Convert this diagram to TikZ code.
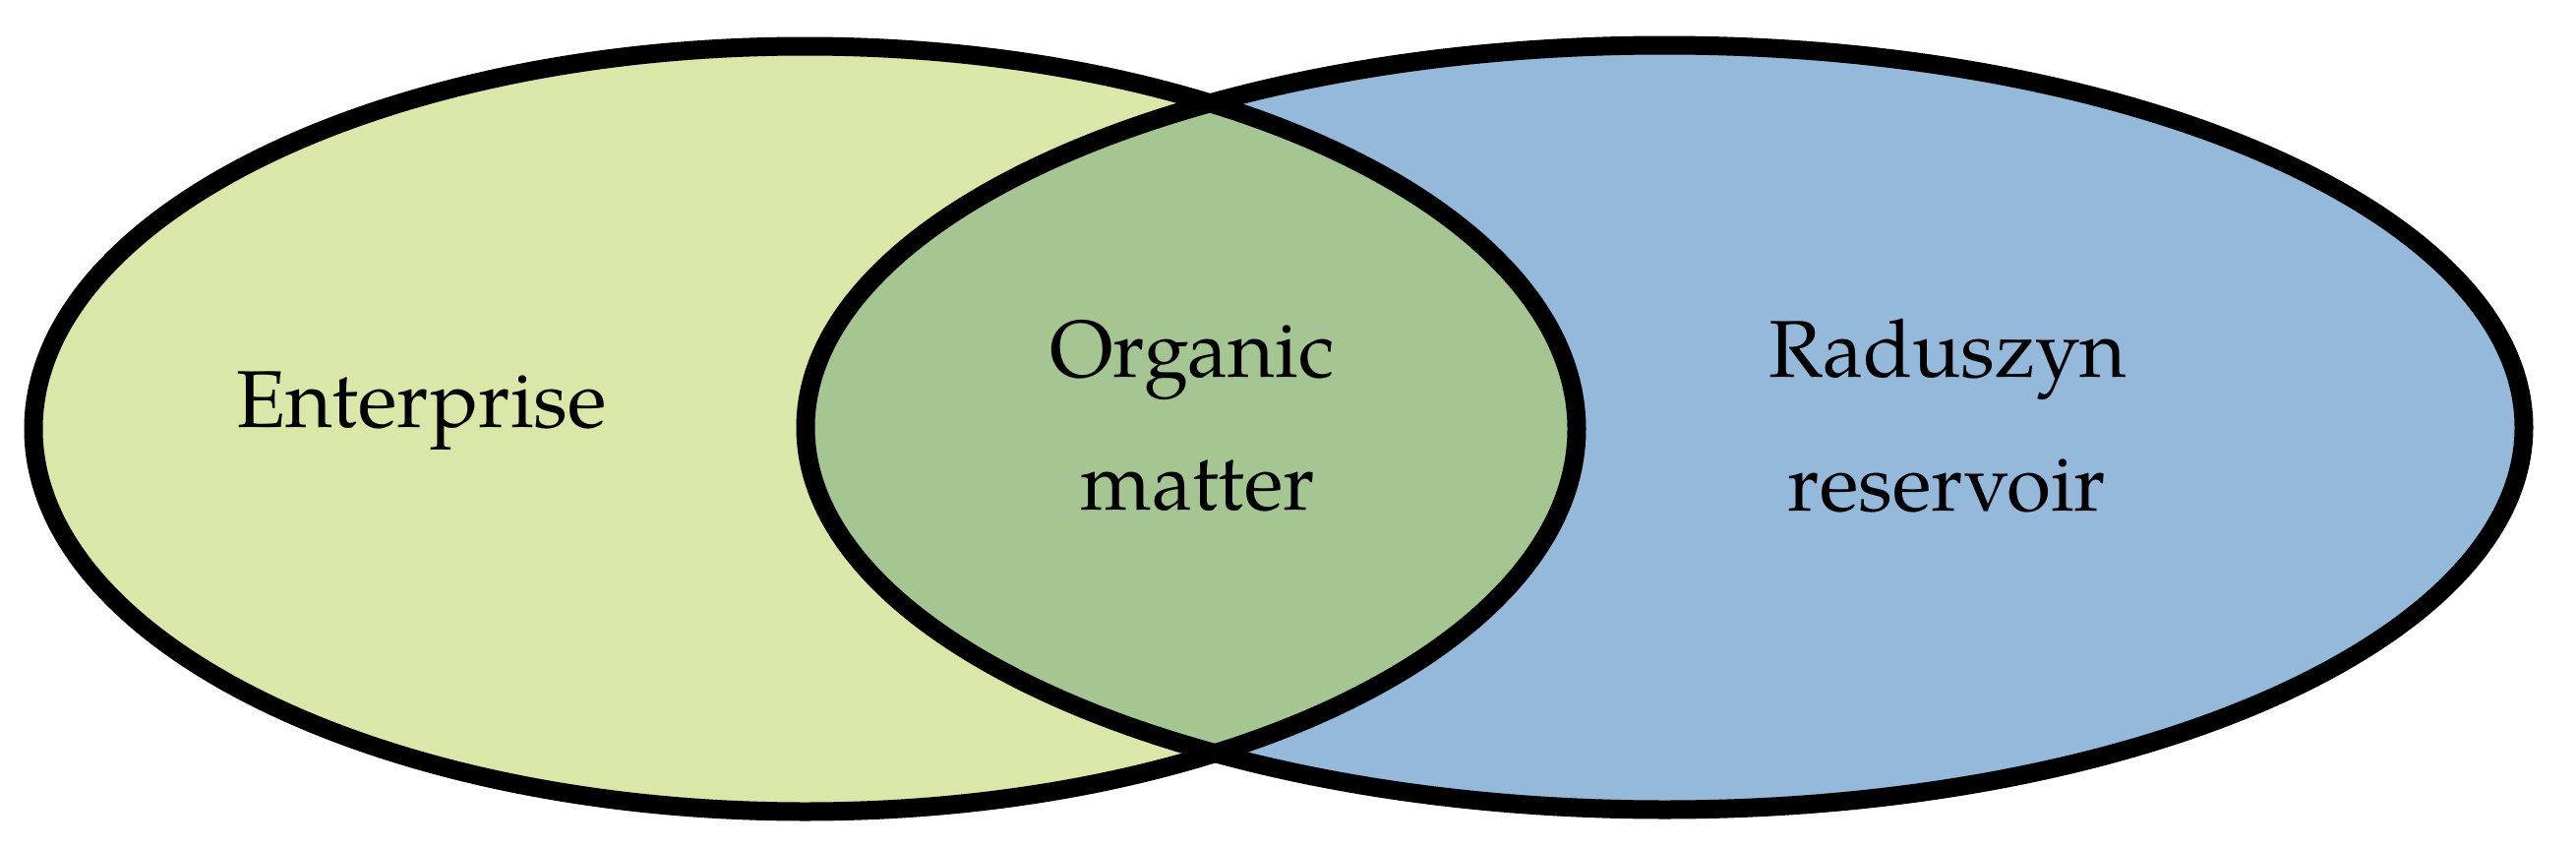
\documentclass[tikz,border=0pt]{standalone}
\usepackage{fontspec}
\setmainfont{TeX Gyre Pagella}
\definecolor{lgreen}{RGB}{217,232,168}
\definecolor{mgreen}{RGB}{165,197,147}
\definecolor{lblue}{RGB}{149,185,219}
\tikzset{
  ring/.style={draw=black, line width=19pt},
  lbl/.style={anchor=base, inner sep=0pt, font=\fontsize{82}{100}\selectfont}
}
\begin{document}
\begin{tikzpicture}[x=1pt,y=-1pt]
\useasboundingbox (0,0) rectangle (2619,862);
\coordinate (cl) at (818.5,436);
\coordinate (cr) at (1692.5,434.5);
\fill[lgreen] (cl) ellipse [x radius=784.5, y radius=389];
\fill[lblue] (cr) ellipse [x radius=873.5, y radius=388.5];
\begin{scope}
  \clip (cl) ellipse [x radius=784.5, y radius=389];
  \fill[mgreen] (cr) ellipse [x radius=873.5, y radius=388.5];
\end{scope}
\draw[ring] (cl) ellipse [x radius=784.5, y radius=389];
\draw[ring] (cr) ellipse [x radius=873.5, y radius=388.5];
\node[lbl] (ent) at (428.5,434) {Enterprise};
\node[lbl] (org1) at (1212,383) {Organic};
\node[lbl] (org2) at (1218,518) {matter};
\node[lbl] (rad1) at (1980.5,383) {Raduszyn};
\node[lbl] (rad2) at (1979.5,519) {reservoir};
\end{tikzpicture}
\end{document}
